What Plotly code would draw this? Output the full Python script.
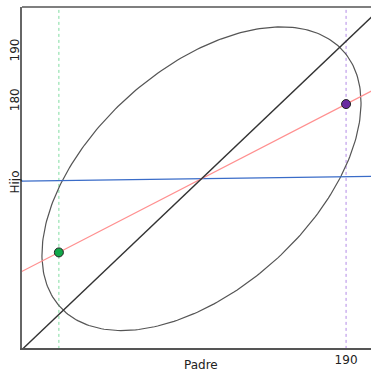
import numpy as np
import plotly.graph_objects as go

# --- data ---
x_range = [125, 195]
y_range = [130.5, 199]
x_tickvals = [190]
y_tickvals = [180, 190]

mean_x = 161.0
mean_y = 164.5
sd_x = 16.0
sd_y = 15.25
corr = 0.5
k_sd = 2.0

red_slope = 0.517
blue_slope = 0.0136
blue_at_mean = 164.5

point_x = [132.4, 190.0]
point_y = [149.7, 179.5]
point_colors = ["#12a84a", "#6a2aa0"]
vline_colors = ["#7fdca0", "#b38be6"]

line_x = [120, 200]

fig = go.Figure()

# vertical dotted lines
for px, c in zip(point_x, vline_colors):
    fig.add_trace(go.Scatter(x=[px, px], y=[y_range[0] - 5, y_range[1] + 5], mode="lines",
                             line=dict(color=c, width=1, dash="dot"), hoverinfo="skip"))

# ellipse (k-SD contour)
t = np.linspace(0, 2 * np.pi, 300)
ex = mean_x + k_sd * sd_x * np.cos(t)
ey = mean_y + k_sd * sd_y * (corr * np.cos(t) + np.sqrt(1 - corr ** 2) * np.sin(t))
fig.add_trace(go.Scatter(x=ex, y=ey, mode="lines", line=dict(color="#555555", width=1.2)))

# blue line
bx = np.array(line_x, dtype=float)
fig.add_trace(go.Scatter(x=bx, y=blue_at_mean + blue_slope * (bx - mean_x), mode="lines",
                         line=dict(color="#3a6cc8", width=1.2)))
# red regression line
fig.add_trace(go.Scatter(x=bx, y=mean_y + red_slope * (bx - mean_x), mode="lines",
                         line=dict(color="#ff9090", width=1.2)))
# SD line
fig.add_trace(go.Scatter(x=bx, y=mean_y + (sd_y / sd_x) * (bx - mean_x), mode="lines",
                         line=dict(color="#333333", width=1.4)))

# points
fig.add_trace(go.Scatter(x=point_x, y=point_y, mode="markers",
                         marker=dict(size=9, color=point_colors, line=dict(color="#222222", width=1))))

fig.update_layout(
    width=371, height=371,
    margin=dict(l=22, r=0, t=7, b=23),
    paper_bgcolor="white", plot_bgcolor="white",
    showlegend=False,
    font=dict(family="DejaVu Sans", size=12, color="#333333"),
    xaxis=dict(range=x_range, tickvals=x_tickvals, showgrid=False, zeroline=False,
               showline=True, linecolor="#555555", linewidth=1.5, ticks="",
               tickfont=dict(size=12, color="#222222"), automargin=False),
    yaxis=dict(range=y_range, tickvals=y_tickvals, showgrid=False, zeroline=False,
               showline=True, linecolor="#666666", linewidth=2, ticks="",
               tickangle=-90, tickfont=dict(size=12, color="#222222"), automargin=False,
               ticklabelstandoff=-4),
    shapes=[dict(type="line", xref="paper", yref="paper", x0=0, x1=1, y0=1, y1=1,
                 line=dict(color="#555555", width=1.5))],
    annotations=[
        dict(text="Padre", xref="paper", yref="paper", x=(201 - 22) / 349, y=0, yshift=-17,
             showarrow=False, xanchor="center", yanchor="middle", font=dict(size=12, color="#222222")),
        dict(text="Hijo", xref="paper", yref="paper", x=0, xshift=-8, y=(348 - 182.5) / 341,
             showarrow=False, textangle=-90, xanchor="center", yanchor="middle", font=dict(size=12, color="#222222")),
    ],
)

fig.write_html("out.html", config={"displayModeBar": False},
               post_script="document.body.style.margin='0px';document.body.style.overflow='hidden';")
